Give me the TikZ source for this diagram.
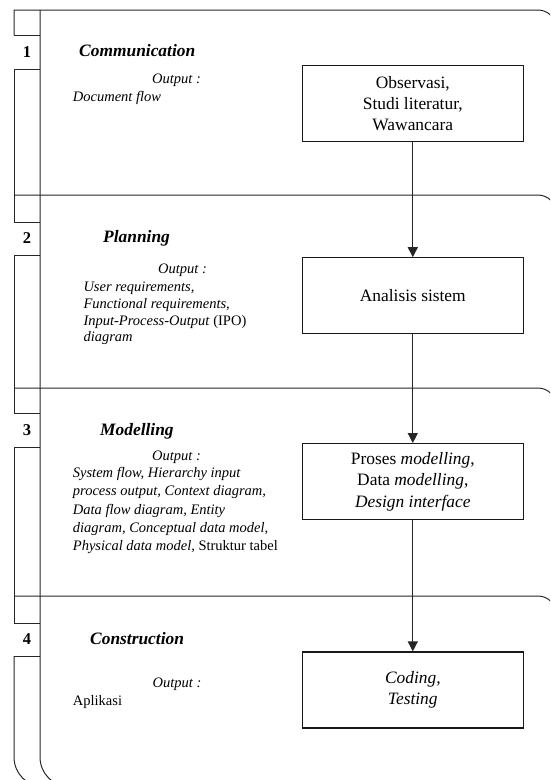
\documentclass[tikz,border=0pt]{standalone}
\usepackage{fontspec}
\setmainfont{Liberation Serif}
\usetikzlibrary{shapes,arrows.meta}

\begin{document}
\begin{tikzpicture}[x=1pt, y=-1pt]
	\tikzstyle{box}=[draw=black!90, line width=1.3pt, minimum width=221pt, minimum height=76pt, align=center, inner sep=0pt, font=\fontsize{17.4}{21.3}\selectfont];
	\tikzstyle{lane}=[draw=black!85, line width=1pt];
	\tikzstyle{phase}=[inner sep=0pt, anchor=base west, font=\fontsize{17.4}{21}\selectfont\bfseries\itshape];
	\tikzstyle{number}=[inner sep=0pt, font=\fontsize{16.5}{20}\selectfont\bfseries];
	\tikzstyle{output}=[inner sep=0pt, anchor=base, font=\fontsize{14.5}{17}\selectfont\itshape];
	\tikzstyle{list}=[inner sep=0pt, anchor=base west, align=left];
	\tikzstyle{flow}=[draw=black!85, line width=1.3pt, -{Triangle[width=10pt,length=10pt]}];

	\useasboundingbox (0,0) rectangle (550,780);
	\clip (0,0) rectangle (550,780);

	% lanes and left column
	\draw[lane] (40,10) -- (40,700) [rounded corners=30pt] -- (40,787) -- (110,787);
	\draw[lane] (14,35) -- (14,10) -- (500,10) [rounded corners=18pt] -- (556,10) -- (556,100);
	\draw[lane] (14,35) -- (40,35);
	\draw[lane] (14,69) -- (40,69);
	\draw[lane] (14,69) -- (14,222);
	\draw[lane] (14,195) -- (500,195) [rounded corners=18pt] -- (556,195) -- (556,300);
	\draw[lane] (14,222) -- (40,222);
	\draw[lane] (14,255) -- (40,255);
	\draw[lane] (14,255) -- (14,413);
	\draw[lane] (14,388) -- (500,388) [rounded corners=18pt] -- (556,388) -- (556,500);
	\draw[lane] (14,413) -- (40,413);
	\draw[lane] (14,447) -- (40,447);
	\draw[lane] (14,447) -- (14,623);
	\draw[lane] (14,596) -- (500,596) [rounded corners=18pt] -- (556,596) -- (556,700);
	\draw[lane] (14,623) -- (40,623);
	\draw[lane] (14,656) -- (40,656);
	\draw[lane] (14,656) -- (14,700) [rounded corners=30pt] -- (14,787) -- (80,787);

	% communication
	\node[number] (one) at (27,52) {1};
	\node[phase] (communication) at (79,56.7) {Communication};
	\node[output] (commout) at (176.5,83) {Output :};
	\node[list, font=\fontsize{14.5}{17}\selectfont] (commlist) at (72.7,101.5) {\textit{Document flow}};
	\node[box] (observasi) at (412.8,103.7) {Observasi,\\Studi literatur,\\Wawancara};

	% planning
	\node[number] (two) at (27,238.5) {2};
	\node[phase] (planning) at (103,242) {Planning};
	\node[output] (planout) at (182.5,273) {Output :};
	\node[list, font=\fontsize{14.5}{16.7}\selectfont] (planlist) at (83.3,341.7) {\textit{User requirements,}\\\textit{Functional requirements,}\\\textit{Input-Process-Output} (IPO)\\\textit{diagram}};
	\node[box] (analisis) at (412.8,295.8) {Analisis sistem};

	% modelling
	\node[number] (three) at (27,430) {3};
	\node[phase] (modelling) at (100,435) {Modelling};
	\node[output] (modout) at (176.5,460) {Output :};
	\node[list, font=\fontsize{14.5}{18.3}\selectfont] (modlist) at (72.7,550.6) {\textit{System flow, Hierarchy input}\\\textit{process output, Context diagram,}\\\textit{Data flow diagram, Entity}\\\textit{diagram, Conceptual data model,}\\\textit{Physical data model,} Struktur tabel};
	\node[box] (proses) at (412.8,481.7) {Proses \textit{modelling},\\Data \textit{modelling},\\\textit{Design interface}};

	% construction
	\node[number] (four) at (27,639.5) {4};
	\node[phase] (construction) at (90,644) {Construction};
	\node[output] (consout) at (177,687.3) {Output :};
	\node[list, font=\fontsize{14.5}{17}\selectfont] (conslist) at (72.7,705) {Aplikasi};
	\node[box] (coding) at (412.8,690) {\textit{Coding,}\\\textit{Testing}};

	\draw[flow] (observasi) -- (analisis);
	\draw[flow] (analisis) -- (proses);
	\draw[flow] (proses) -- (coding);
\end{tikzpicture}
\end{document}
